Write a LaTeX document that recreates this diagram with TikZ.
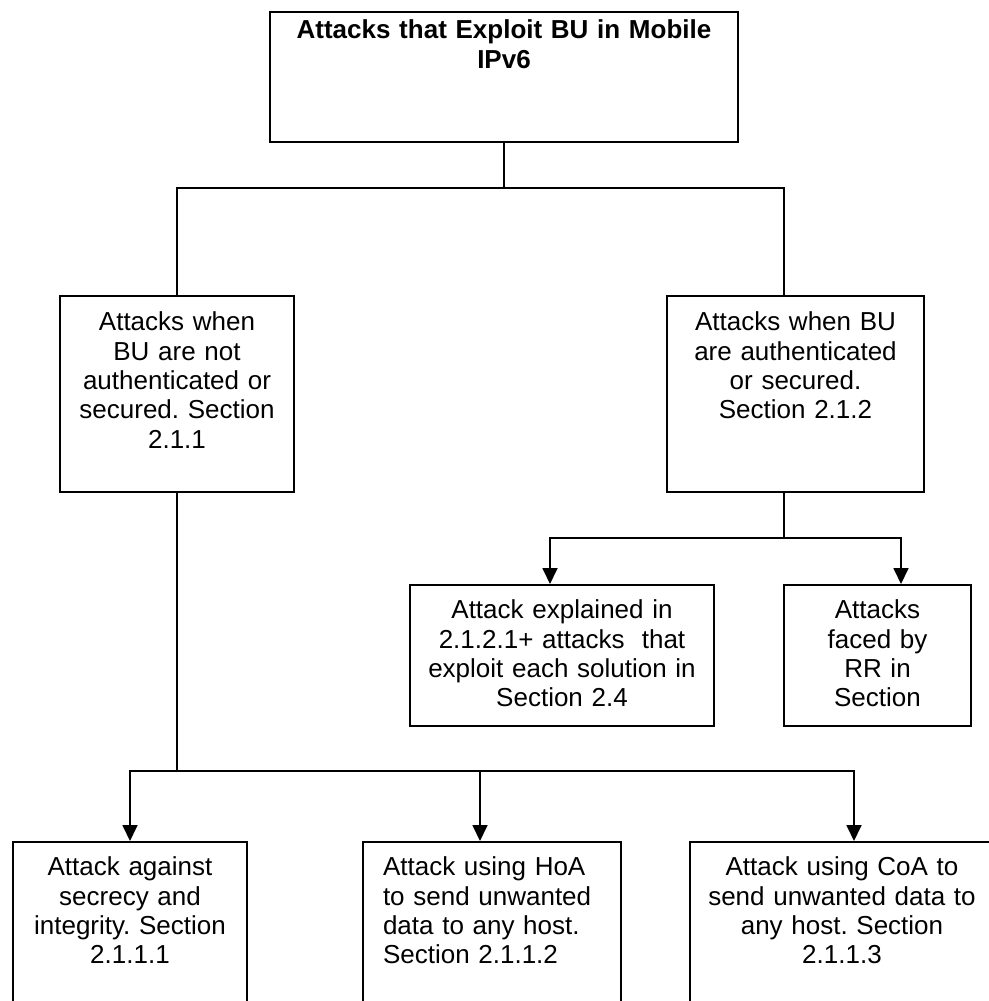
\documentclass[tikz,border=0pt]{standalone}
\usepackage{fontspec}
\setmainfont{Liberation Sans}
\frenchspacing
\usetikzlibrary{arrows.meta,positioning}

\tikzset{
  box/.style={draw, line width=1pt, inner sep=0pt, align=center,
    font=\fontsize{14.8}{16.7}\selectfont, text height=0.68cm},
}

\begin{document}
\begin{tikzpicture}[>={Triangle[length=0.32cm,width=0.3cm]}, line width=1pt]
  \useasboundingbox (0,0) rectangle (19.78,-20.02);
  \draw[fill=white, draw=none] (0,0) rectangle (19.78,-20.02);

  % root
  \node[box, anchor=north, text width=9.36cm, text height=0.54cm, text depth=2.06cm,
    font=\fontsize{14.8}{16.7}\selectfont\bfseries] (root) at (10.08,-0.22)
    {Attacks that Exploit BU in Mobile\\IPv6};

  % first level
  \node[box, anchor=north, text width=4.68cm, text height=0.7cm, text depth=3.22cm] (noauth) at (3.54,-5.9)
    {Attacks when\\BU are not\\authenticated or\\secured. Section\\2.1.1};
  \node[box, anchor=north, text width=5.14cm, text height=0.7cm, text depth=3.22cm] (auth) at (15.91,-5.9)
    {Attacks when BU\\are authenticated\\or secured.\\Section 2.1.2};

  % under the secured branch
  \node[box, anchor=north, text width=6.08cm, text depth=2.14cm] (explained) at (11.24,-11.68)
    {Attack explained in\\2.1.2.1+ attacks\ \ that\\exploit each solution in\\Section 2.4};
  \node[box, anchor=north, text width=3.74cm, text depth=2.14cm] (rr) at (17.55,-11.68)
    {Attacks\\faced by\\RR in\\Section};

  % under the unsecured branch
  \node[box, anchor=north, text width=4.68cm, text depth=2.8cm] (secrecy) at (2.6,-16.82)
    {Attack against\\secrecy and\\integrity. Section\\2.1.1.1};
  \node[box, anchor=north, align=left, inner xsep=0.4cm, text width=4.36cm, text depth=2.8cm] (hoa) at (9.84,-16.82)
    {Attack using HoA\\to send unwanted\\data to any host.\\Section 2.1.1.2};
  \node[box, anchor=north, text width=6.08cm, text depth=2.8cm] (coa) at (16.84,-16.82)
    {Attack using CoA to\\send unwanted data to\\any host. Section\\2.1.1.3};

  \coordinate (split1) at (10.08,-3.76);
  \coordinate (split2) at (15.68,-10.76);
  \coordinate (split3) at (3.54,-15.42);

  \draw (root.south) -- (split1);
  \draw (noauth.north) |- (split1) -| ([xshift=-0.23cm]auth.north);

  \draw ([xshift=-0.23cm]auth.south) -- (split2);
  \draw[->] (split2) -| ([xshift=-0.24cm]explained.north);
  \draw[->] (split2) -| ([xshift=0.47cm]rr.north);

  \draw (noauth.south) -- (split3);
  \draw[->] (split3) -| (secrecy.north);
  \draw[->] (split3) -| ([xshift=-0.24cm]hoa.north);
  \draw[->] (split3) -| ([xshift=0.24cm]coa.north);
\end{tikzpicture}
\end{document}
